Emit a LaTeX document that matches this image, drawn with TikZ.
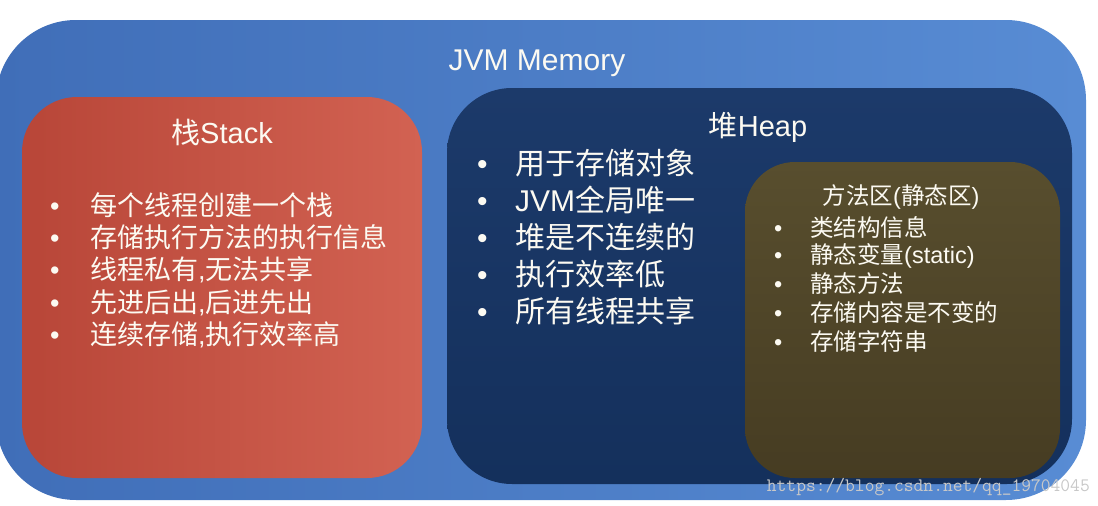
\documentclass[tikz,border=0pt]{standalone}
\usepackage{fontspec}
\setmainfont{Liberation Sans}
\newfontfamily\cjk{Noto Sans CJK SC}
\newcommand\zh[1]{{\cjk #1}}
\newcommand\bul[1]{\makebox[#1][l]{\textbullet}}
\usetikzlibrary{positioning}
\definecolor{memblueA}{RGB}{64,110,184}
\definecolor{memblueB}{RGB}{88,140,212}
\definecolor{stackredA}{RGB}{184,70,56}
\definecolor{stackredB}{RGB}{210,98,82}
\definecolor{heapnavyA}{RGB}{20,48,92}
\definecolor{heapnavyB}{RGB}{28,58,106}
\definecolor{methodoliveA}{RGB}{88,78,46}
\definecolor{methodoliveB}{RGB}{70,60,34}
\definecolor{txt}{RGB}{252,250,242}
\definecolor{markgray}{RGB}{200,200,200}
\tikzset{
  area/.style={rounded corners=#1,draw=none,inner sep=0pt},
  title/.style={text=txt,inner sep=0pt},
  item/.style={text=txt,anchor=west,inner sep=0pt},
}

\begin{document}
\begin{tikzpicture}[x=1pt,y=-1pt]
\useasboundingbox (0,0) rectangle (1098,506);
% outer memory area
\node[area=80pt,left color=memblueA,right color=memblueB,
  minimum width=1090pt,minimum height=480pt] (jvm) at (541,260) {};
\node[title,font=\fontsize{30}{36}\selectfont] (jvmtitle) at (537,63) {JVM Memory};
% stack
\node[area=55pt,left color=stackredA,right color=stackredB,
  minimum width=400pt,minimum height=381pt] (stack) at (222,287.5) {};
\node[title,font=\fontsize{29}{34}\selectfont] (stacktitle) at (222,132) {\zh{栈}Stack};
\foreach \t [count=\i] in {{\zh{每个线程创建一个栈}},{\zh{存储执行方法的执行信息}},
    {\zh{线程私有},\zh{无法共享}},{\zh{先进后出},\zh{后进先出}},{\zh{连续存储},\zh{执行效率高}}}
  \node[item,font=\fontsize{27}{32}\selectfont] (stack\i) at (50,{205+32.5*(\i-1)}) {\bul{40pt}\t};
% heap
\node[area=65pt,top color=heapnavyB,bottom color=heapnavyA,
  minimum width=625pt,minimum height=396pt] (heap) at (759.5,286) {};
\node[title,font=\fontsize{29}{34}\selectfont] (heaptitle) at (758,127) {\zh{堆}Heap};
\foreach \t [count=\i] in {{\zh{用于存储对象}},{JVM\zh{全局唯一}},{\zh{堆是不连续的}},
    {\zh{执行效率低}},{\zh{所有线程共享}}}
  \node[item,font=\fontsize{30}{36}\selectfont] (heap\i) at (477,{163+37*(\i-1)}) {\bul{38pt}\t};
% method area
\node[area=50pt,top color=methodoliveA,bottom color=methodoliveB,
  minimum width=315pt,minimum height=316pt] (method) at (902.5,320) {};
\node[title,font=\fontsize{23.5}{28}\selectfont] (methodtitle) at (901,197) {\zh{方法区}(\zh{静态区})};
\foreach \t [count=\i] in {{\zh{类结构信息}},{\zh{静态变量}(static)},{\zh{静态方法}},
    {\zh{存储内容是不变的}},{\zh{存储字符串}}}
  \node[item,font=\fontsize{23.5}{28}\selectfont] (method\i) at (774,{227+28.5*(\i-1)}) {\bul{36pt}\t};
% watermark
\node[anchor=east,inner sep=0pt,text=markgray,
  font=\ttfamily\fontsize{19}{22}\selectfont] (mark) at (1090,487) {https://blog.csdn.net/qq\_19704045};
\end{tikzpicture}
\end{document}
